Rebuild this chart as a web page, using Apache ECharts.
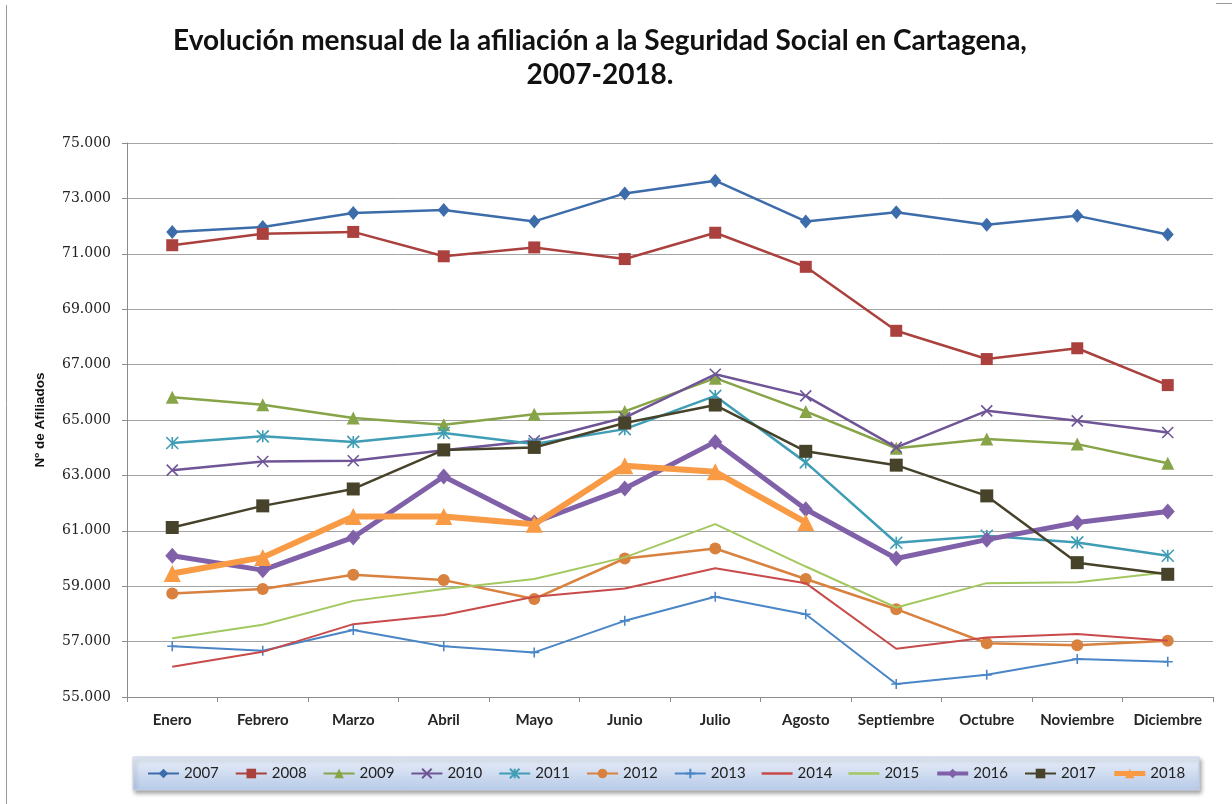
<!DOCTYPE html>
<html>
<head>
<meta charset="utf-8">
<script src="https://cdn.jsdelivr.net/npm/echarts@6/dist/echarts.min.js"></script>
<style>
html,body{margin:0;padding:0;background:#fff;}
#chart{width:1232px;height:804px;}
</style>
</head>
<body>
<div id="chart"></div>
<script>
var categories = ['Enero','Febrero','Marzo','Abril','Mayo','Junio','Julio','Agosto','Septiembre','Octubre','Noviembre','Diciembre'];
var years = ['2007','2008','2009','2010','2011','2012','2013','2014','2015','2016','2017','2018'];

var y2007 = [71790, 71970, 72470, 72580, 72170, 73180, 73640, 72170, 72500, 72050, 72370, 71700];
var y2008 = [71310, 71720, 71790, 70910, 71230, 70810, 71760, 70530, 68220, 67200, 67590, 66260];
var y2009 = [65820, 65550, 65070, 64830, 65210, 65310, 66510, 65310, 63980, 64310, 64130, 63440];
var y2010 = [63190, 63500, 63530, 63910, 64250, 65090, 66650, 65870, 64010, 65330, 64970, 64550];
var y2011 = [64170, 64410, 64210, 64530, 64130, 64670, 65870, 63470, 60570, 60820, 60580, 60100];
var y2012 = [58740, 58900, 59410, 59220, 58540, 60000, 60360, 59260, 58170, 56940, 56870, 57030];
var y2013 = [56830, 56670, 57420, 56830, 56610, 57750, 58620, 57990, 55470, 55800, 56370, 56270];
var y2014 = [56090, 56630, 57630, 57960, 58620, 58920, 59650, 59110, 56740, 57150, 57270, 57030];
var y2015 = [57120, 57610, 58470, 58900, 59260, 60040, 61240, 59710, 58230, 59110, 59140, 59500];
var y2016 = [60100, 59580, 60760, 62960, 61300, 62530, 64210, 61780, 60000, 60680, 61300, 61700];
var y2017 = [61120, 61900, 62510, 63920, 64010, 64890, 65540, 63870, 63370, 62260, 59850, 59430];
var y2018 = [59460, 60040, 61520, 61520, 61240, 63350, 63130, 61300];

var seriesValues = [y2007, y2008, y2009, y2010, y2011, y2012, y2013, y2014, y2015, y2016, y2017, y2018];

var titleLine1 = 'Evolución mensual de la afiliación a la Seguridad Social en Cartagena,';
var titleLine2 = '2007-2018.';
var yAxisName = 'Nº de Afiliados';

// styles
var colors = ['#3d6cab','#aa413e','#87a548','#6f5596','#3f9db5','#d9813e','#4a86c6','#c94a4a','#a3c85f','#8061a9','#47432a','#f99a45'];
var XPATH = 'path://M0,0L10,10M10,0L0,10';
var ASTPATH = 'path://M5,0L5,10M0,0L10,10M10,0L0,10';
var PLUSPATH = 'path://M5,0L5,10M0,5L10,5';
var LEGEND_LINE_ICON = 'path://M0,0L31,0L31,2.5L0,2.5Z';
var styles = [
  {symbol:'diamond', size:[12,14], width:2.5},
  {symbol:'rect', size:12, width:2.5},
  {symbol:'triangle', size:13, width:2.5},
  {symbol:XPATH, size:11, width:2.5, stroke:true},
  {symbol:ASTPATH, size:12, width:2.5, stroke:true},
  {symbol:'circle', size:12, width:2.5},
  {symbol:PLUSPATH, size:10, width:2, stroke:true},
  {symbol:'circle', size:4, width:2, hide:true},
  {symbol:'circle', size:4, width:2, hide:true},
  {symbol:'diamond', size:[14,16], width:5, legendWidth:4},
  {symbol:'rect', size:13, width:2.5},
  {symbol:'triangle', size:17, width:6, legendWidth:5}
];

var series = years.map(function(y, i){
  var st = styles[i];
  var s = {
    name: y,
    type: 'line',
    data: seriesValues[i],
    symbol: st.symbol,
    symbolSize: st.size,
    showSymbol: !st.hide,
    color: colors[i],
    lineStyle: {color: colors[i], width: st.width},
    itemStyle: {color: colors[i]},
    emphasis: {disabled: true},
    animation: false,
    z: 2 + i
  };
  if (st.stroke) {
    s.itemStyle = {color: colors[i], borderColor: colors[i], borderWidth: 1.6};
  }
  return s;
});

var legendData = years.map(function(y, i){
  var st = styles[i];
  if (st.hide) return {name: y, icon: LEGEND_LINE_ICON};
  if (st.legendWidth) return {name: y, lineStyle: {width: st.legendWidth}};
  return {name: y};
});

var chart = echarts.init(document.getElementById('chart'), null, {renderer:'canvas'});
chart.setOption({
  backgroundColor: '#ffffff',
  animation: false,
  title: {
    text: titleLine1 + '\n' + titleLine2,
    left: 600,
    top: 24,
    padding: 0,
    textAlign: 'center',
    textStyle: {fontFamily:'Lato', fontWeight:'bold', fontSize:28, color:'#111', lineHeight:34}
  },
  graphic: [
    {type:'line', shape:{x1:6.5, y1:5, x2:6.5, y2:804}, style:{stroke:'#9a9a9a', lineWidth:1}, silent:true},
    {type:'line', shape:{x1:1216, y1:3.5, x2:1232, y2:3.5}, style:{stroke:'#9a9a9a', lineWidth:1}, silent:true}
  ],
  legend: {
    data: legendData,
    left: 133,
    top: 757,
    orient: 'horizontal',
    padding: [9, 14, 9, 14],
    itemGap: 16,
    itemWidth: 31,
    itemHeight: 12,
    backgroundColor: {type:'linear', x:0, y:0, x2:0, y2:1, colorStops:[{offset:0, color:'#e9eff9'},{offset:1, color:'#b7cae8'}]},
    borderColor: '#c8d4ea',
    borderWidth: 1,
    shadowColor: 'rgba(0,0,0,0.35)',
    shadowBlur: 4,
    shadowOffsetX: 2,
    shadowOffsetY: 3,
    textStyle: {fontFamily:'Lato', fontSize:15, color:'#222'},
    selectedMode: false
  },
  grid: {left:127, right:19, top:143, bottom:107, containLabel:false},
  xAxis: {
    type: 'category',
    data: categories,
    boundaryGap: true,
    axisLine: {show:true, lineStyle:{color:'#8c8c8c', width:1}},
    axisTick: {show:true, length:5, interval:0, lineStyle:{color:'#8c8c8c'}},
    axisLabel: {interval:0, margin:16, fontFamily:'Lato', fontWeight:'bold', fontSize:15, color:'#262626'},
    splitLine: {show:false}
  },
  yAxis: {
    type: 'value',
    min: 55000,
    max: 75000,
    interval: 2000,
    name: yAxisName,
    nameLocation: 'middle',
    nameGap: 80,
    nameRotate: 90,
    nameTextStyle: {fontFamily:'Liberation Sans', fontWeight:'bold', fontSize:13.5, color:'#111'},
    axisLine: {show:true, lineStyle:{color:'#8c8c8c', width:1}},
    axisTick: {show:true, length:5, lineStyle:{color:'#8c8c8c'}},
    axisLabel: {
      margin: 16,
      fontFamily: 'DejaVu Serif',
      fontSize: 14,
      color: '#222',
      formatter: function(v){ return (v/1000).toFixed(3); }
    },
    splitLine: {show:true, lineStyle:{color:'#a3a3a3', width:1}}
  },
  series: series
});
</script>
</body>
</html>
